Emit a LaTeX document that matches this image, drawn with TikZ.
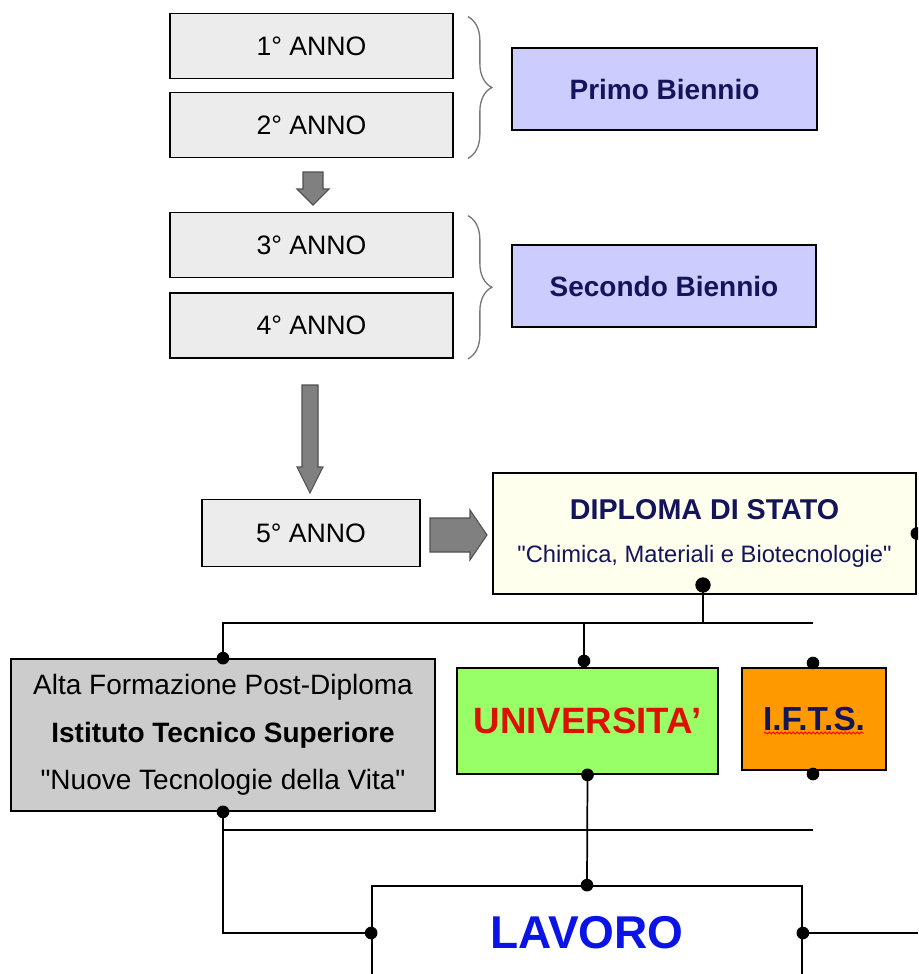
\documentclass[tikz,border=0pt]{standalone}
\usepackage{fontspec}
\setmainfont{Liberation Sans}
\usetikzlibrary{positioning,calc,decorations.pathreplacing,decorations.pathmorphing}

\begin{document}
\begin{tikzpicture}[x=0.75pt,y=-0.75pt,
  box/.style={draw,line width=1.3pt,inner sep=0pt,align=center},
  anno/.style={box,fill=annogray,minimum width=212.25pt,minimum height=48.75pt,font=\fontsize{20}{24}\selectfont},
  biennio/.style={box,fill=lavender,minimum width=228.5pt,minimum height=61.5pt,text=navytext,font=\bfseries\fontsize{21}{24}\selectfont},
  bigbrace/.style={draw=bracegray,line width=1pt,decorate,decoration={brace,amplitude=18pt}},
  blockarrow/.style={draw=arrowedge,fill=arrowgray,line width=0.8pt,line join=miter},
  dot/.style={circle,fill=black,inner sep=0pt,minimum size=9.5pt},
  conn/.style={line width=1.3pt}
]
% Define colours
\definecolor{annogray}{RGB}{236,236,236}
\definecolor{lavender}{RGB}{204,204,255}
\definecolor{navytext}{RGB}{20,20,90}
\definecolor{bracegray}{RGB}{120,120,120}
\definecolor{arrowgray}{RGB}{128,128,128}
\definecolor{arrowedge}{RGB}{80,80,80}
\definecolor{paleyellow}{RGB}{255,255,238}
\definecolor{altagray}{RGB}{204,204,204}
\definecolor{univgreen}{RGB}{153,255,102}
\definecolor{univred}{RGB}{221,17,0}
\definecolor{iftsorange}{RGB}{255,153,0}
\definecolor{lavoroblue}{RGB}{10,20,230}

\useasboundingbox (0,0) rectangle (918,974);
\clip (0,0) rectangle (918,974);

% Draw the five years
\node[anno] (anno1) at (311.5,46) {1° ANNO};
\node[anno] (anno2) at (311.5,125) {2° ANNO};
\node[anno] (anno3) at (311.5,245) {3° ANNO};
\node[anno] (anno4) at (311.5,325.5) {4° ANNO};
\node[anno,minimum width=163.5pt,minimum height=50.25pt] (anno5) at (311,533) {5° ANNO};

% Braces and the two bienni
\draw[bigbrace] ($(anno1.north east)+(14,4)$) -- ($(anno2.south east)+(14,0)$);
\draw[bigbrace] ($(anno3.north east)+(14,4)$) -- ($(anno4.south east)+(14,0)$);
\node[biennio] (primo) at (664.5,89) {Primo Biennio};
\node[biennio] (secondo) at (664,286) {Secondo Biennio};

% Block arrows
\filldraw[blockarrow] (303,172) -- (323,172) -- (323,189) -- (329,189) -- (313,205) -- (297,189) -- (303,189) -- cycle;
\filldraw[blockarrow] (302,385) -- (318,385) -- (318,467) -- (323,467) -- (310,493) -- (297,467) -- (302,467) -- cycle;
\filldraw[blockarrow] (430,518) -- (470,518) -- (470,510) -- (487,535) -- (470,560) -- (470,552) -- (430,552) -- cycle;

% Diploma and the paths after it
\node[box,fill=paleyellow,minimum width=317.25pt,minimum height=90.75pt,text=navytext,font=\fontsize{17.8}{32.6}\selectfont] (diploma) at (704.5,533.5)
  {{\bfseries\fontsize{21.5}{32.6}\selectfont DIPLOMA DI STATO}\\\textquotedbl Chimica, Materiali e Biotecnologie\textquotedbl};
\node[box,fill=altagray,minimum width=318pt,minimum height=114pt,font=\fontsize{21}{35.6}\selectfont] (alta) at (223,735)
  {Alta Formazione Post-Diploma\\\textbf{Istituto Tecnico Superiore}\\\textquotedbl Nuove Tecnologie della Vita\textquotedbl};
\node[box,fill=univgreen,minimum width=195.75pt,minimum height=79.5pt,text=univred,font=\bfseries\fontsize{27.5}{30}\selectfont] (univ) at (587.5,721) {UNIVERSITA’};
\node[box,fill=iftsorange,minimum width=108pt,minimum height=76.5pt,text=navytext,font=\bfseries\fontsize{25}{30}\selectfont] (ifts) at (814,719) {I.F.T.S.};
\draw[red,line width=0.6pt,decorate,decoration={snake,amplitude=0.8pt,segment length=3pt}] ($(ifts.center)+(-50,14)$) -- ($(ifts.center)+(50,14)$);
\node[box,fill=white,minimum width=322.5pt,minimum height=70.5pt,text=lavoroblue,font=\bfseries\fontsize{34.5}{40}\selectfont] (lavoro) at (587,933) {LAVORO};

% Dots
\node[dot,minimum size=11.5pt] (dipdot) at (703,585) {};
\node[dot] (dipright) at (diploma.east) {};
\node[dot] (altatop) at (alta.north) {};
\node[dot] (altabot) at (alta.south) {};
\node[dot] (univtop) at (584,661) {};
\node[dot] (univbot) at (univ.south) {};
\node[dot] (iftstop) at (813,663) {};
\node[dot] (iftsbot) at (813,774) {};
\node[dot] (lavtop) at (lavoro.north) {};
\node[dot] (lavleft) at (lavoro.west) {};
\node[dot] (lavright) at (lavoro.east) {};

% Connections
\coordinate (busAend) at (813,623);
\coordinate (busBend) at (813,830);
\coordinate (lineend) at (918,933);
\draw[conn] (altatop.center) |- (busAend);
\draw[conn] (dipdot.center) -- (dipdot.center |- busAend);
\draw[conn] (univtop.center) -- (univtop.center |- busAend);
\draw[conn] (altabot.center |- busBend) -- (busBend);
\draw[conn] (altabot.center) |- (lavleft.center);
\draw[conn] (univbot.center) -- (lavtop.center);
\draw[conn] (lavright.center) -- (lineend);
\end{tikzpicture}
\end{document}
